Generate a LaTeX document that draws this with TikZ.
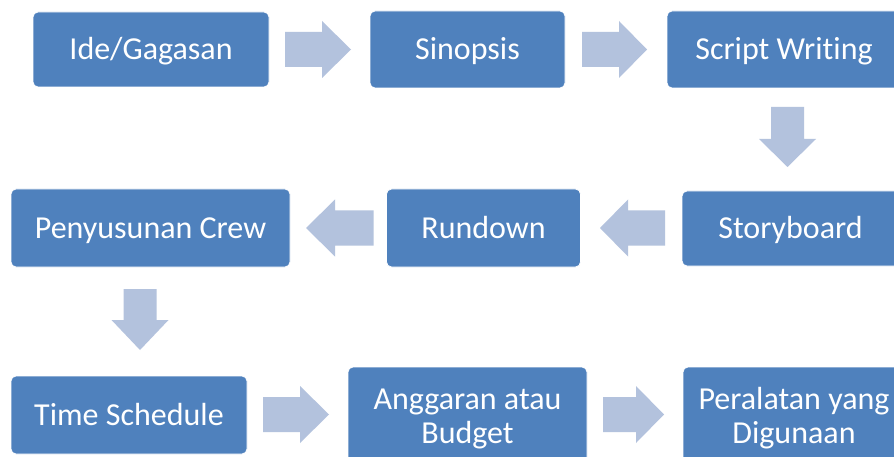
\documentclass[tikz,border=0pt]{standalone}
\usepackage{fontspec}
\setmainfont{Carlito}[Ligatures=NoCommon]
\definecolor{boxblue}{HTML}{4F81BD}
\definecolor{arrblue}{HTML}{B3C2DD}
\newcommand{\harrow}[4]{% x0, xhead, xtip, ycenter
  \fill[arrblue] (#1pt,{-(#4-17.5)*1pt}) -- (#2pt,{-(#4-17.5)*1pt}) -- (#2pt,{-(#4-28.5)*1pt})
    -- (#3pt,{-#4*1pt}) -- (#2pt,{-(#4+28.5)*1pt}) -- (#2pt,{-(#4+17.5)*1pt}) -- (#1pt,{-(#4+17.5)*1pt}) -- cycle;}
\newcommand{\varrow}[4]{% xcenter, y0, yhead, ytip
  \fill[arrblue] ({(#1-16.5)*1pt},-#2pt) -- ({(#1+16.5)*1pt},-#2pt) -- ({(#1+16.5)*1pt},-#3pt)
    -- ({(#1+28.5)*1pt},-#3pt) -- (#1pt,-#4pt) -- ({(#1-28.5)*1pt},-#3pt) -- ({(#1-16.5)*1pt},-#3pt) -- cycle;}
\tikzset{
  stage/.style={rectangle, rounded corners=5pt, fill=boxblue, draw=white, line width=0.8pt,
    text=white, font=\fontsize{32}{34}\selectfont, align=center, inner sep=0pt, anchor=center},
  oneline/.style={text height=20.6pt, text depth=0pt}
}
\begin{document}
\begin{tikzpicture}[x=1pt,y=1pt]
\useasboundingbox (0,0) rectangle (894,-457);
\clip (0,0) rectangle (894,-457);
\fill[white] (0,0) rectangle (894,-457);
% row 1
\node[stage, oneline, minimum width=236pt, minimum height=75pt] (ide) at (151,-49.5) {Ide/Gagasan};
\node[stage, oneline, minimum width=195pt, minimum height=77pt] (sin) at (467.5,-49.5) {Sinopsis};
\node[stage, oneline, minimum width=234pt, minimum height=77pt] (scr) at (784,-49.5) {Script Writing};
% row 2
\node[stage, oneline, minimum width=279pt, minimum height=78pt] (pen) at (150.5,-228) {Penyusunan Crew};
\node[stage, oneline, minimum width=194pt, minimum height=78pt] (run) at (483.5,-228) {Rundown};
\node[stage, oneline, minimum width=217pt, minimum height=75pt] (sto) at (790.5,-228.5) {Storyboard};
% row 3
\node[stage, oneline, minimum width=236pt, minimum height=78pt] (tim) at (129,-415) {Time Schedule};
\node[stage, minimum width=239pt, minimum height=103pt] (ang) at (467.5,-418.5) {Anggaran atau\\Budget};
\node[stage, minimum width=222pt, minimum height=103pt] (per) at (794,-418.5) {Peralatan yang\\Digunaan};
% block arrows
\harrow{285}{322}{351}{49.5}
\harrow{582}{619}{647}{49.5}
\varrow{787.5}{107}{139}{167}
\harrow{665}{628}{600}{228}
\harrow{373.5}{335}{306}{228}
\varrow{140}{289}{320}{350}
\harrow{263}{300}{329}{414.5}
\harrow{603}{636}{664}{414.5}
\end{tikzpicture}
\end{document}
